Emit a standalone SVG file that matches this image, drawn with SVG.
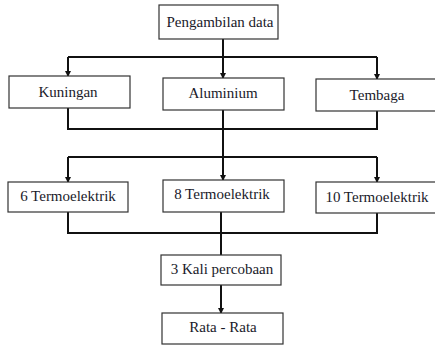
<svg xmlns="http://www.w3.org/2000/svg" width="435" height="345" viewBox="0 0 435 345">
<defs>
<marker id="ah" markerWidth="6" markerHeight="6" refX="5" refY="3" orient="auto" markerUnits="userSpaceOnUse">
<path d="M0,0 L6,3 L0,6 Z" fill="#111"/>
</marker>
</defs>
<rect width="435" height="345" fill="#fff"/>
<g id="connectors" fill="none" stroke="#111" stroke-width="2">
<path d="M223,39 V57"/>
<path d="M68,57 H377"/>
<path d="M68,57 V76" marker-end="url(#ah)"/>
<path d="M223,57 V78" marker-end="url(#ah)"/>
<path d="M377,57 V79" marker-end="url(#ah)"/>
<path d="M68,108 V129 H377 V111"/>
<path d="M223,110 V157"/>
<path d="M68,157 H377"/>
<path d="M68,157 V182" marker-end="url(#ah)"/>
<path d="M223,157 V180" marker-end="url(#ah)"/>
<path d="M377,157 V182" marker-end="url(#ah)"/>
<path d="M68,212 V233 H377 V213"/>
<path d="M221,212 V255"/>
<path d="M221,285 V313" marker-end="url(#ah)"/>
</g>
<g id="nodes" fill="#fff" stroke="#333" stroke-width="1.2">
<g id="pengambilan"><rect x="159" y="5" width="119" height="34"/><text x="220" y="27" font-family="Liberation Serif" font-size="15" text-anchor="middle" fill="#1a1a2a" stroke="none">Pengambilan data</text></g>
<g id="kuningan"><rect x="9" y="76" width="121" height="32"/><text x="68" y="97" font-family="Liberation Serif" font-size="15" text-anchor="middle" fill="#1a1a2a" stroke="none">Kuningan</text></g>
<g id="aluminium"><rect x="163" y="78" width="121" height="32"/><text x="223" y="98" font-family="Liberation Serif" font-size="15" text-anchor="middle" fill="#1a1a2a" stroke="none">Aluminium</text></g>
<g id="tembaga"><rect x="316" y="79" width="122" height="32"/><text x="377" y="100" font-family="Liberation Serif" font-size="15" text-anchor="middle" fill="#1a1a2a" stroke="none">Tembaga</text></g>
<g id="termo6"><rect x="8" y="182" width="120" height="30"/><text x="68" y="201" font-family="Liberation Serif" font-size="15" text-anchor="middle" fill="#1a1a2a" stroke="none">6 Termoelektrik</text></g>
<g id="termo8"><rect x="163" y="180" width="121" height="32"/><text x="222" y="199" font-family="Liberation Serif" font-size="15" text-anchor="middle" fill="#1a1a2a" stroke="none">8 Termoelektrik</text></g>
<g id="termo10"><rect x="316" y="182" width="122" height="31"/><text x="377" y="202" font-family="Liberation Serif" font-size="15" text-anchor="middle" fill="#1a1a2a" stroke="none">10 Termoelektrik</text></g>
<g id="percobaan"><rect x="161" y="255" width="120" height="30"/><text x="222" y="274" font-family="Liberation Serif" font-size="15" text-anchor="middle" fill="#1a1a2a" stroke="none">3 Kali percobaan</text></g>
<g id="rata"><rect x="162" y="313" width="121" height="31"/><text x="223" y="332" font-family="Liberation Serif" font-size="15" text-anchor="middle" fill="#1a1a2a" stroke="none">Rata - Rata</text></g>
</g>
</svg>
